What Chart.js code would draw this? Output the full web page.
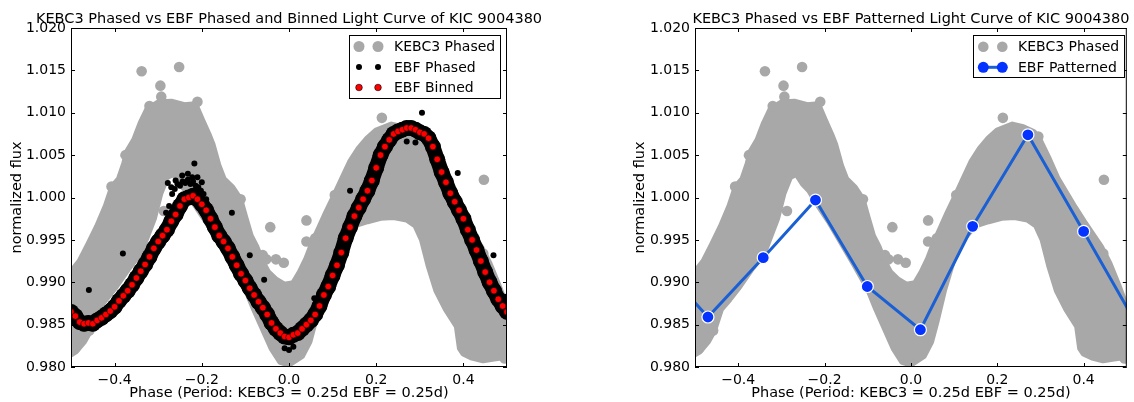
<!DOCTYPE html>
<html><head><meta charset="utf-8">
<script src="https://cdn.jsdelivr.net/npm/chart.js@4.4.1/dist/chart.umd.min.js"></script>
<style>
body{margin:0;background:#fff;}
#wrap{position:relative;width:1134px;height:402px;overflow:hidden;}
canvas{position:absolute;top:0;}
</style></head>
<body><div id="wrap">
<canvas id="c1" width="567" height="402" style="left:0"></canvas>
<canvas id="c2" width="567" height="402" style="left:567px"></canvas>
</div>
<script>
const xTicks = [-0.4, -0.2, 0.0, 0.2, 0.4];
const yTicks = [0.980, 0.985, 0.990, 0.995, 1.000, 1.005, 1.010, 1.015, 1.020];

// KEBC3 phased: outline of the dense band of points (upper edge left->right, lower edge right->left)
const bandPhase = [-0.50,-0.48,-0.46,-0.44,-0.42,-0.405,-0.39,-0.378,-0.37,-0.355,-0.34,-0.325,-0.30,-0.27,-0.24,-0.215,-0.20,-0.185,-0.175,-0.162,-0.15,-0.13,-0.112,-0.10,-0.088,-0.075,-0.062,-0.048,-0.03,-0.01,0.01,0.025,0.04,0.055,0.07,0.085,0.10,0.12,0.14,0.16,0.18,0.20,0.235,0.26,0.285,0.30,0.32,0.34,0.36,0.38,0.40,0.42,0.44,0.46,0.48,0.50,
  0.50,0.47,0.445,0.42,0.40,0.392,0.385,0.36,0.338,0.32,0.305,0.29,0.27,0.24,0.21,0.18,0.155,0.14,0.12,0.10,0.077,0.06,0.047,0.03,0.0,-0.02,-0.04,-0.06,-0.08,-0.10,-0.13,-0.16,-0.19,-0.22,-0.235,-0.25,-0.265,-0.28,-0.295,-0.31,-0.34,-0.37,-0.40,-0.42,-0.44,-0.456,-0.47,-0.49,-0.50,-0.50];
const bandFlux = [0.9912,0.9925,0.9945,0.9966,0.9990,1.0013,1.0022,1.0040,1.0055,1.0068,1.0088,1.0104,1.0112,1.0113,1.0109,1.0110,1.0092,1.0075,1.0062,1.0038,1.0022,1.0012,0.9998,0.9976,0.9955,0.9942,0.9925,0.9912,0.9903,0.9897,0.9899,0.9912,0.9928,0.9948,0.9965,0.9982,0.9998,1.0020,1.0042,1.0058,1.0070,1.0079,1.0086,1.0083,1.0077,1.0066,1.0045,1.0022,1.0005,0.9988,0.9972,0.9957,0.9942,0.9922,0.9897,0.9870,
  0.9812,0.9810,0.9808,0.9811,0.9816,0.9822,0.9848,0.9868,0.9890,0.9920,0.9950,0.9967,0.9974,0.9977,0.9976,0.9972,0.9968,0.9962,0.9950,0.9930,0.9891,0.9855,0.9830,0.9813,0.9803,0.9806,0.9822,0.9845,0.9868,0.9893,0.9920,0.9946,0.9972,0.9995,1.0008,1.0016,1.0028,1.0024,1.0005,0.9975,0.9935,0.9915,0.9893,0.9880,0.9868,0.9843,0.9830,0.9818,0.9815,0.9912];

// KEBC3 phased: isolated points
const kebcOutPhase = [-0.338,-0.252,-0.295,-0.293,-0.320,-0.210,-0.407,-0.375,-0.287,-0.043,0.040,0.040,-0.052,-0.030,-0.012,0.213,0.295,0.447,0.4455,-0.111,-0.49,0.495,-0.458,0.105,0.06,-0.06];
const kebcOutFlux  = [1.0149,1.0154,1.0132,1.0119,1.0108,1.0113,1.0013,1.0050,0.9984,0.9965,0.9973,0.9948,0.9927,0.9927,0.9923,1.0094,1.0072,1.0021,0.9934,0.9998,0.9822,0.9810,0.9843,1.0003,0.9952,0.9932];

// EBF binned (red)
const binPhase = [-0.50,-0.49,-0.48,-0.47,-0.46,-0.45,-0.44,-0.43,-0.42,-0.41,-0.40,-0.39,-0.38,-0.37,-0.36,-0.35,-0.34,-0.33,-0.32,-0.31,-0.30,-0.29,-0.28,-0.27,-0.26,-0.25,-0.24,-0.23,-0.22,-0.21,-0.20,-0.19,-0.18,-0.17,-0.16,-0.15,-0.14,-0.13,-0.12,-0.11,-0.10,-0.09,-0.08,-0.07,-0.06,-0.05,-0.04,-0.03,-0.02,-0.01,0.00,0.01,0.02,0.03,0.04,0.05,0.06,0.07,0.08,0.09,0.10,0.11,0.12,0.13,0.14,0.15,0.16,0.17,0.18,0.19,0.20,0.21,0.22,0.23,0.24,0.25,0.26,0.27,0.28,0.29,0.30,0.31,0.32,0.33,0.34,0.35,0.36,0.37,0.38,0.39,0.40,0.41,0.42,0.43,0.44,0.45,0.46,0.47,0.48,0.49,0.50];
const binFlux = [0.9865,0.9860,0.9853,0.9851,0.9852,0.9851,0.9855,0.9858,0.9862,0.9866,0.9871,0.9878,0.9884,0.9890,0.9897,0.9905,0.9913,0.9921,0.9930,0.9940,0.9948,0.9955,0.9962,0.9972,0.9980,0.9990,0.9998,1.0000,1.0002,0.9998,0.9992,0.9985,0.9975,0.9965,0.9955,0.9948,0.9940,0.9930,0.9920,0.9910,0.9902,0.9893,0.9885,0.9877,0.9870,0.9862,0.9852,0.9845,0.9840,0.9836,0.9835,0.9838,0.9840,0.9845,0.9850,0.9855,0.9862,0.9872,0.9885,0.9895,0.9908,0.9920,0.9935,0.9952,0.9965,0.9978,0.9988,0.9998,1.0008,1.0020,1.0035,1.0050,1.0060,1.0068,1.0075,1.0078,1.0080,1.0082,1.0082,1.0080,1.0077,1.0075,1.0070,1.0060,1.0045,1.0030,1.0018,1.0005,0.9995,0.9985,0.9975,0.9962,0.9950,0.9938,0.9925,0.9912,0.9900,0.9890,0.9880,0.9872,0.9865];

// EBF phased: isolated / scattered black points
const ebfOutPhase = [0.305,-0.217,-0.278,0.387,0.140,-0.381,-0.459,-0.131,-0.090,-0.057,0.058,0.469,0.498,
  -0.282,-0.275,-0.268,-0.262,-0.256,-0.250,-0.244,-0.238,-0.232,-0.226,-0.220,-0.214,-0.208,-0.202,-0.196,-0.190,-0.184,
  -0.27,-0.26,-0.245,-0.232,-0.222,-0.21,-0.20,0.29,0.27,0.0,-0.01,0.01];
const ebfOutFlux  = [1.0100,1.0040,1.0017,1.0029,1.0008,0.9934,0.9891,0.9982,0.9932,0.9903,0.9881,0.9932,0.9883,
  0.9982,0.9990,1.0004,1.0010,1.0016,1.0014,1.0019,1.0017,1.0021,1.0016,1.0019,1.0014,1.0012,1.0008,1.0004,0.9998,0.9990,
  1.0012,1.0020,1.0026,1.0028,1.0024,1.0024,1.0018,1.0065,1.0066,0.9820,0.9822,0.9824];

// EBF patterned (blue)
const patPhase = [-0.588,-0.470,-0.342,-0.221,-0.101,0.022,0.143,0.271,0.400,0.523];
const patFlux  = [0.9925,0.9859,0.9929,0.9997,0.9895,0.9844,0.9966,1.0074,0.9960,0.9850];

const FONT = '"DejaVu Sans", "Liberation Sans", sans-serif';
Chart.defaults.font.family = FONT;
Chart.defaults.font.size = 14;
Chart.defaults.color = '#000';
const GRAY = '#a8a8a8';
const pts = (xs, ys) => xs.map((x, i) => ({x, y: ys[i]}));
const fmtX = v => Math.abs(v) < 1e-9 ? '0.0' : (v < 0 ? '\u2212' : '') + Math.abs(v).toFixed(1);

const decorPlugin = {
  id: 'decor',
  afterDraw(chart, args, o) {
    const {ctx, chartArea: a, scales: {x, y}} = chart;
    ctx.save();
    ctx.strokeStyle = '#000'; ctx.lineWidth = 1;
    ctx.strokeRect(a.left + 0.5, a.top + 0.5, a.right - a.left - 1, a.bottom - a.top - 1);
    ctx.beginPath();
    xTicks.forEach(v => {
      const p = Math.round(x.getPixelForValue(v)) + 0.5;
      ctx.moveTo(p, a.bottom); ctx.lineTo(p, a.bottom - 4);
      ctx.moveTo(p, a.top); ctx.lineTo(p, a.top + 4);
    });
    yTicks.forEach(v => {
      const p = Math.round(y.getPixelForValue(v)) + 0.5;
      ctx.moveTo(a.left, p); ctx.lineTo(a.left + 4, p);
      ctx.moveTo(a.right, p); ctx.lineTo(a.right - 4, p);
    });
    ctx.stroke();
    ctx.fillStyle = '#000';
    ctx.font = '14.5px ' + FONT;
    ctx.textAlign = 'center'; ctx.textBaseline = 'alphabetic';
    ctx.fillText(o.title, (a.left + a.right) / 2, 23);
    ctx.textBaseline = 'middle';
    ctx.fillText(o.xTitle, (a.left + a.right) / 2, 393);
    ctx.save();
    ctx.translate(o.yTitleX, (a.top + a.bottom) / 2);
    ctx.rotate(-Math.PI / 2);
    ctx.fillText(o.yTitle, 0, 0);
    ctx.restore();
    // legend
    const L = o.legend;
    ctx.font = '14px ' + FONT;
    ctx.fillStyle = '#fff';
    ctx.fillRect(L.x, L.y, L.w, L.h);
    ctx.strokeStyle = '#000'; ctx.lineWidth = 1;
    ctx.strokeRect(L.x + 0.5, L.y + 0.5, L.w, L.h);
    L.items.forEach((it, i) => {
      const cy = L.y + L.first + i * L.gap;
      if (it.line) {
        ctx.strokeStyle = it.line; ctx.lineWidth = 3;
        ctx.beginPath(); ctx.moveTo(L.m1, cy); ctx.lineTo(L.m2, cy); ctx.stroke();
      }
      [L.m1, L.m2].forEach(mx => {
        ctx.beginPath(); ctx.arc(mx, cy, it.r, 0, Math.PI * 2);
        ctx.fillStyle = it.color; ctx.fill();
        if (it.edge) { ctx.strokeStyle = it.edge; ctx.lineWidth = it.edgeW; ctx.stroke(); }
      });
      ctx.fillStyle = '#000'; ctx.textAlign = 'left'; ctx.textBaseline = 'middle';
      ctx.fillText(it.text, L.tx, cy + 1);
    });
    ctx.restore();
  }
};

function scalesFor(yWidth) {
  return {
    x: {
      type: 'linear', min: -0.5, max: 0.5,
      afterBuildTicks: s => { s.ticks = xTicks.map(v => ({value: v})); },
      afterFit: s => { s.height = 35; },
      grid: {display: false, drawTicks: false}, border: {display: false},
      ticks: {font: {family: FONT, size: 14}, color: '#000', padding: 5, maxRotation: 0, autoSkip: false, callback: v => fmtX(v)}
    },
    y: {
      type: 'linear', min: 0.98, max: 1.02,
      afterBuildTicks: s => { s.ticks = yTicks.map(v => ({value: v})); },
      afterFit: s => { s.width = yWidth; },
      grid: {display: false, drawTicks: false}, border: {display: false},
      ticks: {font: {family: FONT, size: 14}, color: '#000', padding: 5, autoSkip: false, callback: v => v.toFixed(3)}
    }
  };
}

function bandDatasets() {
  return [
    {label: 'KEBC3 band', data: pts(bandPhase, bandFlux), showLine: true, fill: 'shape', backgroundColor: GRAY, borderColor: GRAY, borderWidth: 6, borderJoinStyle: 'round', pointRadius: 0, tension: 0, clip: 0, order: 10},
    {label: 'KEBC3 Phased', data: pts(kebcOutPhase, kebcOutFlux), pointRadius: 5.3, pointBackgroundColor: GRAY, pointBorderWidth: 0, clip: 0, order: 9}
  ];
}

const common = {responsive: false, animation: false, devicePixelRatio: 1, events: []};

new Chart(document.getElementById('c1'), {
  type: 'scatter',
  data: {datasets: [
    ...bandDatasets(),
    {label: 'EBF band', data: pts(binPhase, binFlux), showLine: true, borderColor: '#000', borderWidth: 15, borderJoinStyle: 'round', borderCapStyle: 'round', pointRadius: 8, pointBackgroundColor: '#000', pointBorderWidth: 0, tension: 0, fill: false, clip: 0, order: 8},
    {label: 'EBF Phased', data: pts(ebfOutPhase, ebfOutFlux), pointRadius: 3, pointBackgroundColor: '#000', pointBorderWidth: 0, clip: 0, order: 7},
    {label: 'EBF Binned', data: pts(binPhase, binFlux), pointRadius: 3.3, pointBackgroundColor: '#ff0000', pointBorderColor: '#000', pointBorderWidth: 0.6, clip: 0, order: 6}
  ]},
  options: {...common,
    layout: {padding: {left: 0, right: 60, top: 28, bottom: 0}},
    plugins: {legend: {display: false}, tooltip: {enabled: false},
      decor: {title: 'KEBC3 Phased vs EBF Phased and Binned Light Curve of KIC 9004380', xTitle: 'Phase (Period: KEBC3 = 0.25d EBF = 0.25d)', yTitle: 'normalized flux', yTitleX: 17,
        legend: {x: 349, y: 35, w: 151, h: 63, first: 11.5, gap: 20.5, m1: 359, m2: 378, tx: 394, items: [
          {text: 'KEBC3 Phased', color: GRAY, r: 5.5},
          {text: 'EBF Phased', color: '#000', r: 3},
          {text: 'EBF Binned', color: '#ff0000', r: 3.3, edge: '#000', edgeW: 0.6}
        ]}}},
    scales: scalesFor(71)
  },
  plugins: [decorPlugin]
});

new Chart(document.getElementById('c2'), {
  type: 'scatter',
  data: {datasets: [
    ...bandDatasets(),
    {label: 'EBF Patterned', data: pts(patPhase, patFlux), showLine: true, borderColor: '#1a5fd4', borderWidth: 3, pointRadius: 6, pointBackgroundColor: '#0433ff', pointBorderColor: '#ffffff', pointBorderWidth: 1.2, tension: 0, fill: false, clip: 0, order: 1}
  ]},
  options: {...common,
    layout: {padding: {left: 0, right: 3, top: 28, bottom: 0}},
    plugins: {legend: {display: false}, tooltip: {enabled: false},
      decor: {title: 'KEBC3 Phased vs EBF Patterned Light Curve of KIC 9004380', xTitle: 'Phase (Period: KEBC3 = 0.25d EBF = 0.25d)', yTitle: 'normalized flux', yTitleX: 73,
        legend: {x: 406, y: 35, w: 151, h: 42, first: 11.7, gap: 20.6, m1: 416.3, m2: 435.3, tx: 451, items: [
          {text: 'KEBC3 Phased', color: GRAY, r: 5.3},
          {text: 'EBF Patterned', color: '#0433ff', r: 5.5, line: '#1a5fd4'}
        ]}}},
    scales: scalesFor(128)
  },
  plugins: [decorPlugin]
});
</script>
</body></html>
